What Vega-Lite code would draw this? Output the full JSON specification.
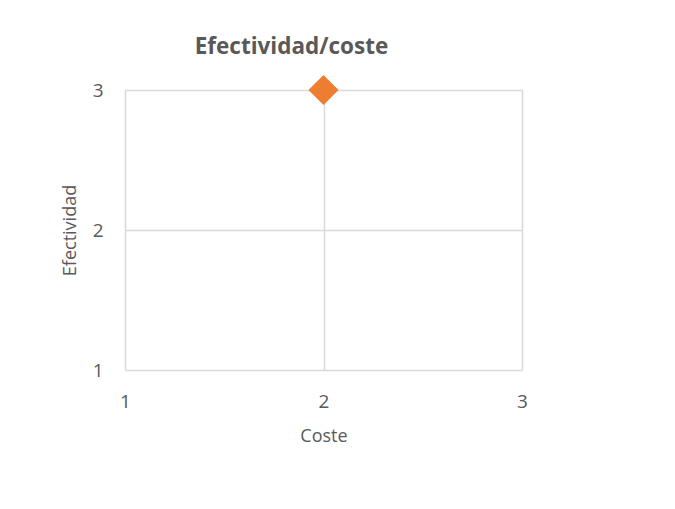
{
  "$schema": "https://vega.github.io/schema/vega-lite/v6.json",
  "width": 397,
  "height": 280,
  "autosize": {"type": "none"},
  "padding": {"left": 125, "top": 90, "right": 153, "bottom": 139},
  "background": "white",
  "title": {
    "text": "Efectividad/coste",
    "font": "Open Sans",
    "fontSize": 22.5,
    "fontWeight": "bold",
    "color": "#595959",
    "anchor": "middle",
    "dx": -32,
    "offset": 17
  },
  "data": {"values": [{"Coste": 2, "Efectividad": 3}]},
  "mark": {"type": "point", "shape": "diamond", "filled": true, "size": 900, "color": "#ED7D31", "opacity": 1},
  "encoding": {
    "x": {
      "field": "Coste",
      "type": "quantitative",
      "scale": {"domain": [1, 3], "nice": false, "zero": false},
      "axis": {
        "title": "Coste",
        "values": [1, 2, 3],
        "labelExpr": "format(datum.value, 'd')",
        "labelOverlap": false,
        "domain": false,
        "ticks": false,
        "grid": true,
        "gridColor": "#D9D9D9",
        "gridWidth": 1.5,
        "labelFont": "Open Sans",
        "labelFontSize": 19,
        "labelColor": "#595959",
        "labelPadding": 22,
        "labelFlush": false,
        "titleFont": "Open Sans",
        "titleFontSize": 18,
        "titleFontWeight": "normal",
        "titleColor": "#595959",
        "titlePadding": 16
      }
    },
    "y": {
      "field": "Efectividad",
      "type": "quantitative",
      "scale": {"domain": [1, 3], "nice": false, "zero": false},
      "axis": {
        "title": "Efectividad",
        "values": [1, 2, 3],
        "labelExpr": "format(datum.value, 'd')",
        "labelOverlap": false,
        "domain": false,
        "ticks": false,
        "grid": true,
        "gridColor": "#D9D9D9",
        "gridWidth": 1.5,
        "labelFont": "Open Sans",
        "labelFontSize": 19,
        "labelColor": "#595959",
        "labelPadding": 22,
        "labelFlush": false,
        "titleFont": "Open Sans",
        "titleFontSize": 18,
        "titleFontWeight": "normal",
        "titleColor": "#595959",
        "titlePadding": 13
      }
    }
  },
  "config": {"view": {"stroke": null}}
}
